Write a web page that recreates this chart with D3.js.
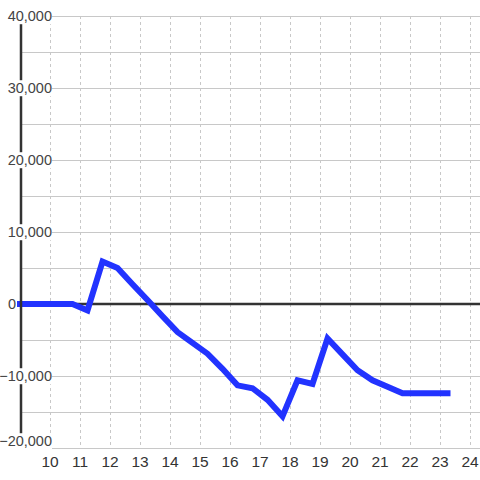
<!DOCTYPE html>
<html>
<head>
<meta charset="utf-8">
<script src="https://cdn.jsdelivr.net/npm/d3@7"></script>
<style>
  body { margin: 0; background: #fff; }
  svg { display: block; font-family: 'Liberation Sans', Arial, sans-serif; }
</style>
</head>
<body>
<svg id="chart" width="480" height="480"></svg>
<script>
const hours = [9, 10.75, 11.25, 11.75, 12.25, 12.75, 13.25, 13.75, 14.25, 14.75, 15.25, 15.75, 16.25, 16.75, 17.25, 17.75, 18.25, 18.75, 19.25, 19.75, 20.25, 20.75, 21.25, 21.75, 22.25, 22.75, 23.25]
const values = [0, 0, -900, 5900, 5000, 2750, 550, -1700, -3900, -5400, -6900, -9000, -11300, -11700, -13300, -15600, -10600, -11100, -4800, -7000, -9200, -10600, -11500, -12400, -12400, -12400, -12400]
const xTicks = [10, 11, 12, 13, 14, 15, 16, 17, 18, 19, 20, 21, 22, 23, 24]
const yTicks = [-20000, -10000, 0, 10000, 20000, 30000, 40000]
const yMinor = [-15000, -5000, 5000, 15000, 25000, 35000]

const svg = d3.select('#chart')
const x = d3.scaleLinear().domain([9, 24.333]).range([20, 480])
const y = d3.scaleLinear().domain([-20000, 40000]).range([448, 16])
const fmt = d3.format(',')

// horizontal grid
svg.append('g')
  .selectAll('line')
  .data(yTicks.concat(yMinor).filter((v) => v !== 0))
  .enter()
  .append('line')
  .attr('x1', 22).attr('x2', 480)
  .attr('y1', (d) => Math.round(y(d)) + 0.5)
  .attr('y2', (d) => Math.round(y(d)) + 0.5)
  .attr('stroke', '#c8c8c8')

// vertical dashed grid
svg.append('g')
  .selectAll('line')
  .data(xTicks)
  .enter()
  .append('line')
  .attr('x1', (d) => Math.round(x(d)) + 0.5)
  .attr('x2', (d) => Math.round(x(d)) + 0.5)
  .attr('y1', y(40000)).attr('y2', y(-20000))
  .attr('stroke', '#c8c8c8')
  .attr('stroke-dasharray', '3,3')

// zero line
svg.append('line')
  .attr('x1', 22).attr('x2', 480)
  .attr('y1', y(0)).attr('y2', y(0))
  .attr('stroke', '#333')
  .attr('stroke-width', 2.5)

// data line
const line = d3.line().x((d, i) => x(hours[i])).y((d) => y(d))
svg.append('path')
  .datum(values)
  .attr('d', line)
  .attr('fill', 'none')
  .attr('stroke', '#2233ff')
  .attr('stroke-width', 6)
  .attr('stroke-linecap', 'square')
  .attr('stroke-linejoin', 'miter')

// y axis line
svg.append('line')
  .attr('x1', 21).attr('x2', 21)
  .attr('y1', y(40000)).attr('y2', y(-20000))
  .attr('stroke', '#333')
  .attr('stroke-width', 2.5)

// y labels with white backgrounds; the bottom one is nudged up to clear the x labels
const yLabels = svg.append('g')
  .selectAll('g')
  .data(yTicks)
  .enter()
  .append('g')
yLabels.append('rect').attr('fill', '#fff')
yLabels.append('text')
  .attr('x', (d) => d === 0 ? 16 : 52)
  .attr('y', (d) => d === -20000 ? y(d) - 7 : y(d))
  .attr('dy', '0.36em')
  .attr('text-anchor', 'end')
  .attr('font-size', 14.5)
  .attr('fill', '#444')
  .text((d) => fmt(d))
yLabels.each(function () {
  const g = d3.select(this)
  const b = g.select('text').node().getBBox()
  g.select('rect').attr('x', b.x).attr('y', b.y).attr('width', b.width).attr('height', b.height)
})

// x labels
svg.append('g')
  .selectAll('text')
  .data(xTicks)
  .enter()
  .append('text')
  .attr('x', (d) => x(d))
  .attr('y', 461)
  .attr('dy', '0.36em')
  .attr('text-anchor', 'middle')
  .attr('font-size', 15.5)
  .attr('fill', '#333')
  .text((d) => d)
</script>
</body>
</html>
